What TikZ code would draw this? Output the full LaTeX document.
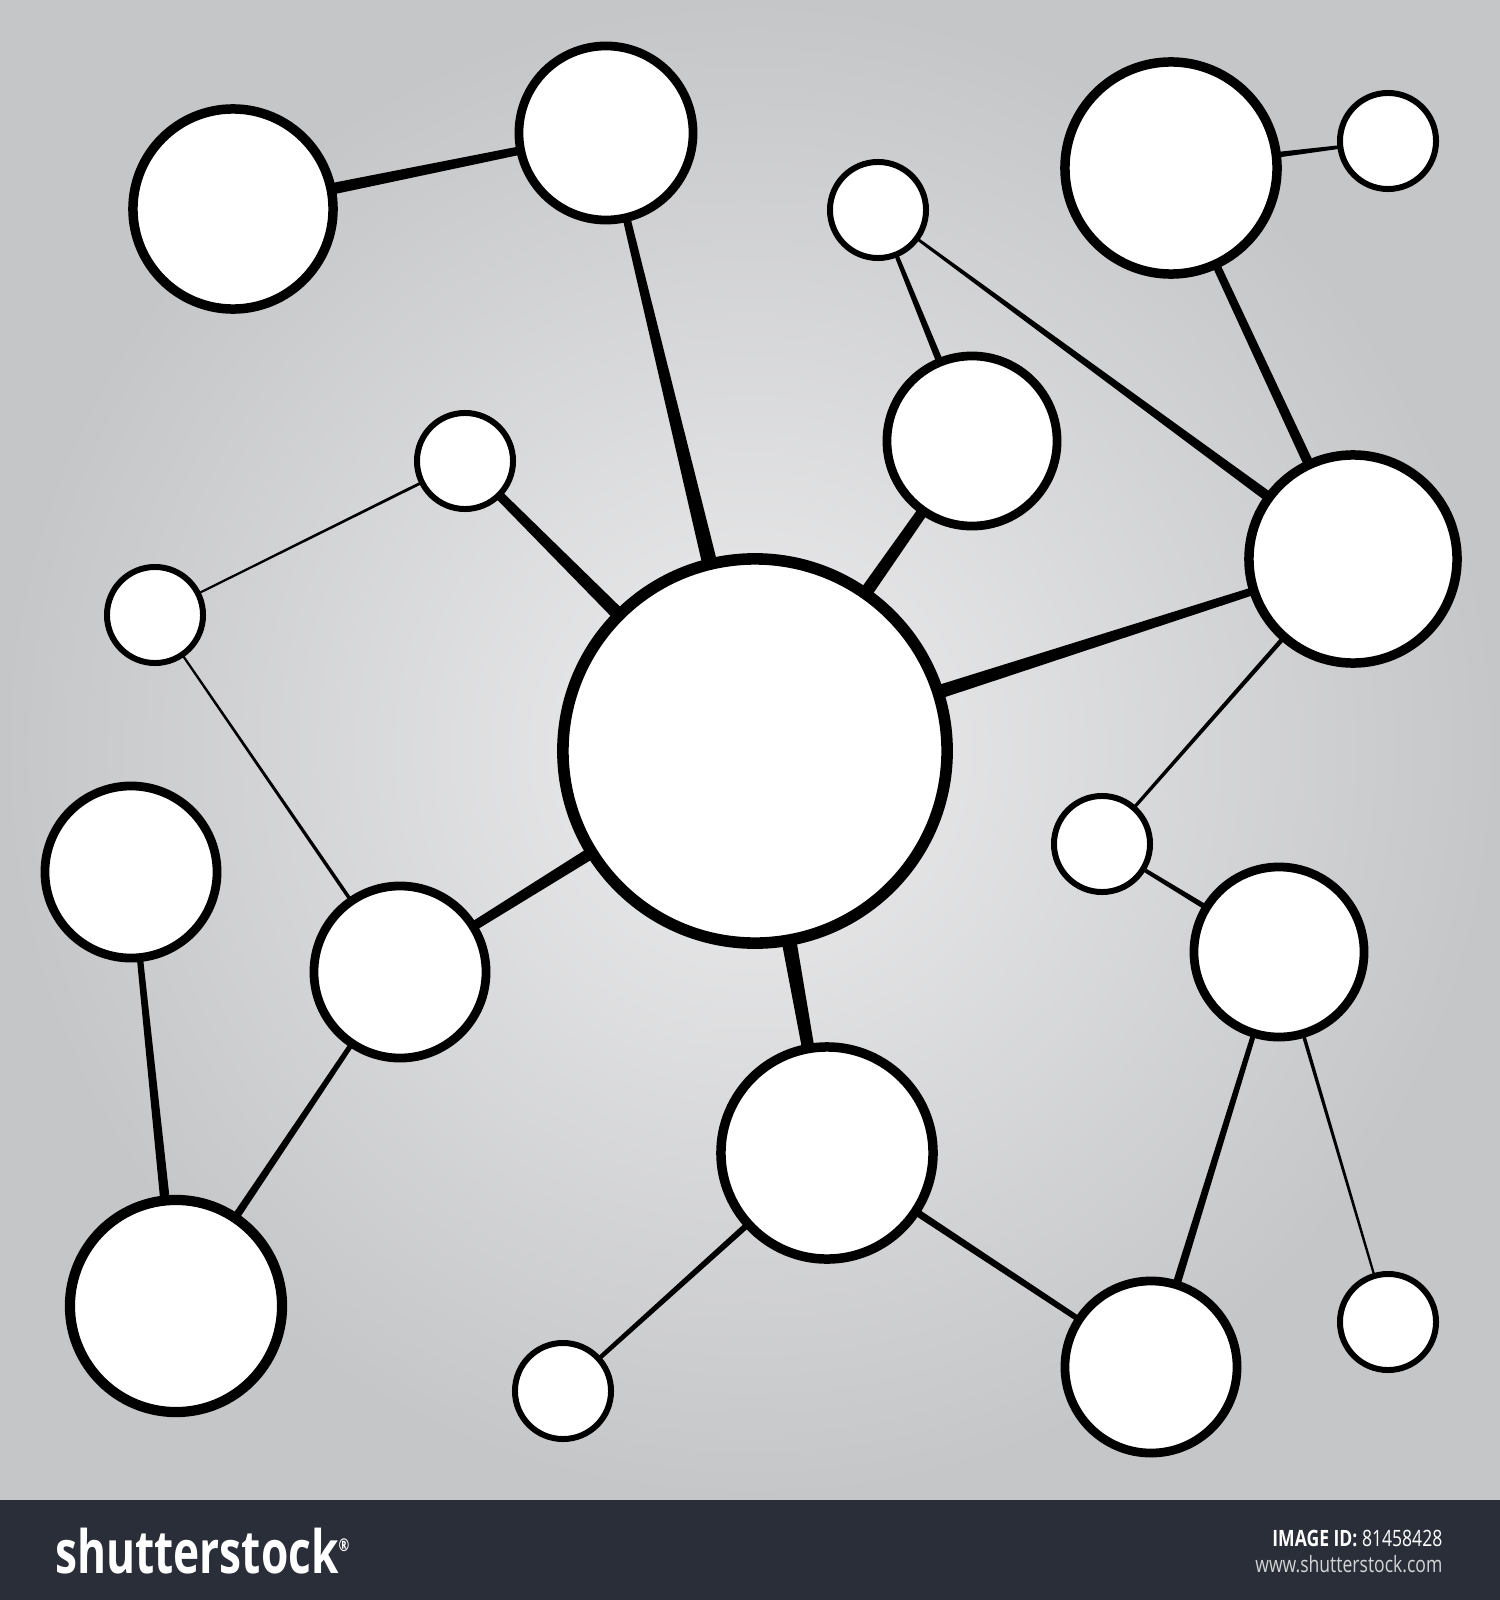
\documentclass[tikz,border=0pt]{standalone}
\usepackage{fontspec}
\setmainfont{Open Sans}
\usepackage{tikz}
\usetikzlibrary{calc}

\pgfdeclarelayer{back}
\pgfdeclarelayer{links}
\pgfsetlayers{back,links,main}

\definecolor{bgin}{HTML}{EDEDEE}
\definecolor{bgout}{HTML}{C5C6C8}
\definecolor{barcol}{HTML}{292E38}

\tikzset{
    bub/.style 2 args={circle, draw=black, fill=white, inner sep=0pt,
        minimum size=#1, line width=#2},
}

% tapered connector: node, node, width at first, width at second (px)
\newcommand{\link}[4]{%
    \fill ($(#1)!#3*0.05mm!90:(#2)$) -- ($(#2)!#4*0.05mm!-90:(#1)$)
        -- ($(#2)!#4*0.05mm!90:(#1)$) -- ($(#1)!#3*0.05mm!-90:(#2)$) -- cycle;}

\begin{document}
\begin{tikzpicture}[x=0.01cm, y=-0.01cm]
    \useasboundingbox (0,0) rectangle (1500,1600);

    \begin{pgfonlayer}{back}
        \shade[inner color=bgin, outer color=bgout] (0,0) rectangle (1500,1500);
        \fill[barcol] (0,1500) rectangle (1500,1600);
    \end{pgfonlayer}

    \node[bub={2.0cm}{2.7pt}] (A) at (233,209) {};
    \node[bub={1.74cm}{2.5pt}] (B) at (606,133) {};
    \node[bub={0.96cm}{1.7pt}] (C) at (878,210) {};
    \node[bub={2.12cm}{2.7pt}] (D) at (1171,168) {};
    \node[bub={0.96cm}{1.7pt}] (E) at (1388,141) {};
    \node[bub={1.7cm}{2.5pt}] (F) at (972,441) {};
    \node[bub={2.08cm}{2.7pt}] (G) at (1353,559) {};
    \node[bub={3.84cm}{3.3pt}] (H) at (755,751) {};
    \node[bub={0.96cm}{1.7pt}] (I) at (465,461) {};
    \node[bub={0.96cm}{1.7pt}] (J) at (155,615) {};
    \node[bub={1.72cm}{2.5pt}] (K) at (131,872) {};
    \node[bub={1.72cm}{2.5pt}] (L) at (400,972) {};
    \node[bub={2.12cm}{2.9pt}] (M) at (176,1306) {};
    \node[bub={2.12cm}{2.7pt}] (N) at (827,1153) {};
    \node[bub={0.96cm}{1.7pt}] (O) at (563,1391) {};
    \node[bub={1.72cm}{2.5pt}] (P) at (1151,1367) {};
    \node[bub={1.7cm}{2.5pt}] (Q) at (1279,952) {};
    \node[bub={0.96cm}{1.7pt}] (R) at (1102,844) {};
    \node[bub={0.96cm}{1.7pt}] (S) at (1388,1322) {};

    \begin{pgfonlayer}{links}
        \link{A}{B}{13}{7}
        \link{B}{H}{6}{19}
        \link{I}{H}{8}{18}
        \link{I}{J}{3}{2}
        \link{J}{L}{2}{4}
        \link{L}{H}{8}{15}
        \link{L}{M}{4}{9}
        \link{K}{M}{5}{11}
        \link{H}{N}{19}{10}
        \link{N}{O}{7}{4}
        \link{N}{P}{8}{5}
        \link{P}{Q}{9}{4}
        \link{Q}{S}{4}{2}
        \link{Q}{R}{7}{3}
        \link{R}{G}{3}{5}
        \link{G}{H}{6}{17}
        \link{F}{H}{9}{17}
        \link{C}{F}{3}{9}
        \link{C}{G}{2}{12}
        \link{D}{G}{7}{11}
        \link{D}{E}{9}{2}
    \end{pgfonlayer}

    \node[anchor=west, text=white, font=\bfseries\fontsize{17}{17}\selectfont,
        xscale=0.74] (logo) at (46,1551) {shutterstock\textsuperscript{\tiny ®}};
    \node[anchor=east, text=white, font=\fontsize{6.4}{7}\selectfont,
        xscale=0.78] (imgid) at (1452,1538) {\textbf{IMAGE ID:} 81458428};
    \node[anchor=east, text=white!80!barcol, font=\fontsize{6.4}{7}\selectfont,
        xscale=0.78] (web) at (1452,1564) {www.shutterstock.com};
\end{tikzpicture}
\end{document}
